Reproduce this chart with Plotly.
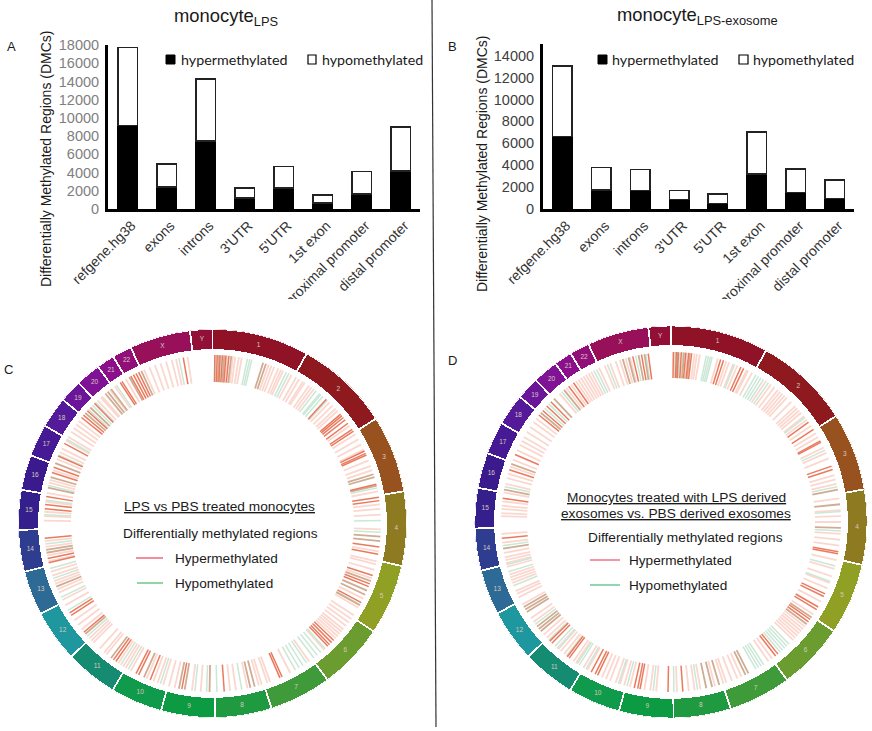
import plotly.graph_objects as go

W, H = 872, 731

# ---------- bar data ----------
regions = ["refgene.hg38", "exons", "introns", "3'UTR", "5'UTR", "1st exon",
           "proximal promoter", "distal promoter"]
hyper_lps = [9150, 2400, 7450, 1200, 2300, 650, 1650, 4150]
hypo_lps = [8550, 2550, 6800, 1100, 2350, 900, 2450, 4850]
hyper_exo = [6600, 1750, 1700, 850, 500, 3200, 1500, 950]
hypo_exo = [6450, 2050, 1900, 850, 850, 3850, 2150, 1700]
ticks_lps = [0, 2000, 4000, 6000, 8000, 10000, 12000, 14000, 16000, 18000]
ticks_exo = [0, 2000, 4000, 6000, 8000, 10000, 12000, 14000]

# ---------- circular map data ----------
chrom_names = [str(i) for i in range(1, 23)] + ["X", "Y"]
chrom_mb = [248, 242, 198, 190, 181, 170, 159, 145, 138, 133, 135, 133, 114, 107,
            102, 90, 83, 80, 58, 64, 46, 50, 156, 57]
chrom_colors = ["#8f1226", "#8e1a20", "#98521f", "#8e7a20", "#90a024", "#6a9c30",
                "#3f9b3a", "#1f9a40", "#0c9a43", "#0f9a4c", "#158c72", "#1f979e",
                "#2d6a96", "#2f3d90", "#351f8c", "#3b1a8e", "#451a94", "#551a9a",
                "#6a159a", "#801295", "#8c108c", "#920f7a", "#98105a", "#921038"]

# methylated-region positions along the genome circle (degrees from start of chr 1)
c_red = [0.8, 1.6, 2.6, 3.4, 4.6, 5.6, 42.5, 49.5, 50.2, 51, 52, 53.5, 56, 56.8, 64.5, 65.4, 66,
         76.5, 81, 82.2, 98, 100.5, 108, 111, 112, 118, 134, 135, 136, 136.8, 155.6, 156.4, 176,
         190.5, 201.7, 206, 207, 215, 216, 229.8, 237, 238, 256.5, 258, 265, 275, 276.5, 279.2,
         287.6, 289.5, 293.6, 298.4, 309, 310, 312, 315.5, 326.8, 327.5, 331, 332, 333, 334, 350]
c_olive = [2.2, 4, 6.4, 17.5, 18.5, 73, 74, 77, 94.5, 96, 110, 113.5, 115, 119, 165.5, 167, 181,
           189.5, 191.5, 204, 217, 229, 248, 260, 261, 282.3, 286, 291, 311, 313.5, 320.5, 321.5,
           323, 330.4, 335]
c_pale = [5, 7, 7.8, 9, 10, 19.5, 20.5, 21.5, 23, 24, 24.8, 28, 29.8, 31, 32.5, 33.2, 35, 36, 37,
          44, 45.5, 47, 48, 54.5, 58, 60, 62, 64, 68, 70, 71.5, 79, 83.5, 85, 87, 92, 99.5, 103, 104,
          106, 109, 116.5, 120, 123, 124.5, 126, 127.5, 129, 130, 131, 132, 133, 138.5, 145, 152.5,
          160, 161, 163, 164, 168, 172, 174, 184, 187, 193, 195, 197, 199, 200.5, 203, 209, 211, 212,
          214, 219, 220, 222, 225, 226, 227, 231, 233, 235, 241, 243, 245.8, 247, 249, 250, 252, 253.4,
          257, 259, 262, 264, 271, 272.5, 274, 277.5, 280.5, 284, 285, 288.5, 292.5, 295, 296.5,
          299.5, 301, 303, 304.5, 306, 307.5, 317, 318.5, 319, 322.5, 324.5, 329, 336, 338, 340,
          342, 344, 346, 347.5, 351.5]
c_green = [1.2, 3, 4.2, 12, 12.8, 13.5, 26, 27, 38, 39.5, 40, 41, 43, 77.8, 89, 93, 118.8, 138,
           140, 141.5, 143, 146, 147.5, 149, 150.5, 170, 178.5, 182, 186, 198, 210, 213, 228, 239,
           244, 251, 254.5, 263, 273, 278, 283, 294, 300, 312.6, 314.5, 316, 325.2, 348.5]

d_red = [0.8, 1.8, 2.5, 3.5, 5, 6, 7, 17, 18, 24.3, 25.3, 54, 57, 61.5, 62, 70.8, 72, 100.1, 100.8,
         115, 116, 120, 121, 125, 126, 142, 141, 176, 181, 190.5, 191.3, 192.5, 205.6, 208, 206.5,
         216.8, 217.6, 224.5, 225.5, 264.5, 278, 287.9, 293.4, 309, 311, 313, 315, 323, 325,
         347, 350, 352.3]
d_olive = [2.2, 4.4, 6.4, 79, 84, 92, 124.2, 127, 152.9, 154, 163.5, 166, 168, 230, 231, 232, 238,
           239, 240, 261, 281, 290, 310, 316.5, 321, 343.5, 345.5, 349, 351]
d_pale = [5.4, 8, 8.8, 9.8, 16, 19, 20, 21.5, 23, 26.5, 27, 28.5, 34, 36, 37.5, 39, 40, 41, 42, 43,
          45, 47, 48, 49, 50, 51.5, 53, 55.5, 58.5, 60, 64, 66, 68, 74, 75.5, 77, 82, 86, 88, 90,
          94, 96, 98, 103, 106, 108.7, 111, 113, 118, 123, 128, 129, 130, 131, 132, 133, 134, 143.5,
          145, 155.5, 157, 159, 161, 162, 165, 170, 172, 174, 178, 185, 187, 189, 194, 196, 197.5,
          199, 201, 202.5, 204, 209.5, 211, 214, 215, 219, 220.5, 222, 227, 228.5, 234, 235.5, 241,
          243.7, 245, 246, 249, 250, 251, 252, 254.7, 256, 257, 258, 259.5, 263, 266, 272, 273,
          274.4, 275.5, 277, 280, 283, 285, 286.5, 289, 291.5, 295, 297, 298.5, 300, 302, 304, 306,
          307.5, 319, 322, 324, 326, 327, 328, 329, 330, 331, 332, 335, 337, 339, 341, 342.5, 344.5, 346]
d_green = [1.3, 3, 4, 12, 12.7, 13.4, 14, 22, 30, 31, 32, 33, 35, 52, 65, 78, 86.5, 93, 105, 110.5,
           136, 137, 138, 139, 140, 147, 148, 149, 150, 171, 179, 186, 195, 198, 210, 212.7, 213.5,
           218, 221.5, 223, 226, 233, 248, 253, 255.5, 262, 282, 312, 314, 320, 333, 334, 338, 348, 351.5]


def px(x):
    return x / W


def py(y):
    return 1 - y / H


fig = go.Figure()


def add_bars(hyper, hypo, xa, ya):
    fig.add_bar(x=regions, y=hyper, xaxis=xa, yaxis=ya, name="hypermethylated", showlegend=False,
                marker=dict(color="#000000", line=dict(color="#000000", width=1.5)))
    fig.add_bar(x=regions, y=hypo, xaxis=xa, yaxis=ya, name="hypomethylated", showlegend=False,
                marker=dict(color="#ffffff", line=dict(color="#222222", width=1.5)))


add_bars(hyper_lps, hypo_lps, "x", "y")
add_bars(hyper_exo, hypo_exo, "x2", "y2")

total = sum(chrom_mb)
deg = [m * 360 / total for m in chrom_mb]
starts = [sum(deg[:i]) for i in range(len(deg))]
mids = [s + d / 2 for s, d in zip(starts, deg)]


def add_circle(subplot, r_in, r_out, t_in, t_out, red, olive, pale, green):
    fig.add_barpolar(theta=mids, width=deg, base=r_in, r=[r_out - r_in] * len(deg), subplot=subplot,
                     marker=dict(color=chrom_colors, line=dict(color="#ffffff", width=1.8)),
                     showlegend=False, opacity=1, hoverinfo="skip")

    def track(pos, color, width):
        th, rr = [], []
        for p in pos:
            th += [p, p, None]
            rr += [t_in, t_out, None]
        fig.add_scatterpolar(theta=th, r=rr, mode="lines", subplot=subplot, showlegend=False,
                             line=dict(color=color, width=width), hoverinfo="skip",
                             connectgaps=False)

    track(pale, "#fad8cf", 1.8)
    track(green, "#cbe7d6", 1.5)
    track(olive, "#cfac92", 1.8)
    track(red, "#ea7a5e", 1.5)
    fig.add_scatterpolar(theta=mids, r=[(r_in + r_out) / 2] * len(mids), text=chrom_names, mode="text",
                         subplot=subplot, showlegend=False, hoverinfo="skip",
                         textfont=dict(family="Liberation Sans", size=6.5, color="#d8c8bc"))


add_circle("polar", 173.5, 194.5, 141.5, 168.5, c_red, c_olive, c_pale, c_green)
add_circle("polar2", 176, 196.5, 144, 170, d_red, d_olive, d_pale, d_green)


def polar_layout(cx, cy, r):
    return dict(domain=dict(x=[px(cx - r), px(cx + r)], y=[py(cy + r), py(cy - r)]),
                bgcolor="rgba(0,0,0,0)",
                radialaxis=dict(range=[0, r], visible=False),
                angularaxis=dict(visible=False, rotation=90, direction="clockwise", thetaunit="degrees"))


TXT = "#333333"
SANS = "Liberation Sans"


def xaxis(left, right, anchor):
    return dict(domain=[px(left), px(right)], anchor=anchor, type="category", range=[-0.5, 7.5],
                automargin=False, showline=True, linecolor="#000000", linewidth=3, ticks="",
                showgrid=False, tickangle=-45, ticklabelshift=4,
                tickfont=dict(family=SANS, size=14, color=TXT))


def yaxis(top, bottom, rng, vals, color, anchor):
    return dict(domain=[py(bottom), py(top)], anchor=anchor, range=rng, tickvals=vals, automargin=False,
                showline=True, linecolor="#000000", linewidth=3, ticks="", showgrid=False, zeroline=False,
                tickformat="d", ticklabelstandoff=3, tickfont=dict(family=SANS, size=14.5, color=color))


notes = []


def note(x, y, text, size=14, anchor="center", family=SANS, color="#1a1a1a", angle=0):
    notes.append(dict(x=px(x), y=py(y), xref="paper", yref="paper", text=text, showarrow=False,
                      xanchor=anchor, yanchor="middle", textangle=angle,
                      font=dict(family=family, size=size, color=color)))


note(226, 17, "monocyte<sub>LPS</sub>", 18.4)
note(697, 16, "monocyte<sub>LPS-exosome</sub>", 18.4)
note(11, 47, "A", 13)
note(453, 46, "B", 13)
note(8, 369, "C", 13)
note(453, 360, "D", 13)
note(46, 159, "Differentially Methylated Regions (DMCs)", 14, angle=-90)
note(482, 163, "Differentially Methylated Regions (DMCs)", 14, angle=-90)
note(179, 59.5, "hypermethylated", 14.3, "left", "Lato")
note(320, 59.5, "hypomethylated", 14.2, "left", "Lato")
note(610, 59, "hypermethylated", 14.3, "left", "Lato")
note(751, 59, "hypomethylated", 14.2, "left", "Lato")
note(219, 506, "<u>LPS vs PBS treated monocytes</u>", 13.7)
note(220, 533, "Differentially methylated regions", 13.7)
note(173, 558.5, "Hypermethylated", 13.6, "left")
note(173, 583.5, "Hypomethylated", 13.6, "left")
note(676, 497, "<u>Monocytes treated with LPS derived</u>", 13.7)
note(676, 513, "<u>exosomes vs. PBS derived exosomes</u>", 13.7)
note(685, 537, "Differentially methylated regions", 13.7)
note(627, 560, "Hypermethylated", 13.6, "left")
note(627, 585, "Hypomethylated", 13.6, "left")


def pshape(kind, x0, y0, x1, y1, **kw):
    return dict(type=kind, xref="paper", yref="paper", x0=px(x0), x1=px(x1), y0=py(y0), y1=py(y1), **kw)


shapes = [
    pshape("line", 432, 0, 436, 727, line=dict(color="#333333", width=1.2)),
    pshape("rect", 166, 55, 175, 64, fillcolor="#000000", line=dict(color="#000000", width=1)),
    pshape("rect", 308, 55, 316, 64, fillcolor="#ffffff", line=dict(color="#000000", width=1.2)),
    pshape("rect", 598, 55, 607, 64, fillcolor="#000000", line=dict(color="#000000", width=1)),
    pshape("rect", 739, 55, 748, 64, fillcolor="#ffffff", line=dict(color="#000000", width=1.2)),
    pshape("line", 136, 558, 163, 558, line=dict(color="#e8415a", width=1.2)),
    pshape("line", 137, 583, 163, 583, line=dict(color="#45b86c", width=1.2)),
    pshape("line", 590, 560, 620, 560, line=dict(color="#ee6a80", width=1.4)),
    pshape("line", 590, 585, 620, 585, line=dict(color="#62c488", width=1.4)),
    pshape("rect", 230, 299, 430, 325, fillcolor="#ffffff", line=dict(width=0), layer="above"),
    pshape("rect", 680, 299, 870, 322, fillcolor="#ffffff", line=dict(width=0), layer="above"),
]

fig.update_layout(
    width=W, height=H, autosize=False, margin=dict(l=0, r=0, t=0, b=0, pad=0),
    paper_bgcolor="#ffffff", plot_bgcolor="#ffffff", barmode="stack", bargap=0.5, showlegend=False,
    xaxis=xaxis(108, 420, "y"),
    yaxis=yaxis(45, 209, [0, 18000], ticks_lps, "#7f7f7f", "x"),
    xaxis2=xaxis(543, 854, "y2"),
    yaxis2=yaxis(44, 209, [0, 15065], ticks_exo, "#404040", "x2"),
    polar=polar_layout(212.5, 523.5, 194.5),
    polar2=polar_layout(671, 522, 196.5),
    annotations=notes, shapes=shapes,
)

fig.write_html("out.html", config={"displayModeBar": False},
               post_script="document.body.style.margin='0';")
